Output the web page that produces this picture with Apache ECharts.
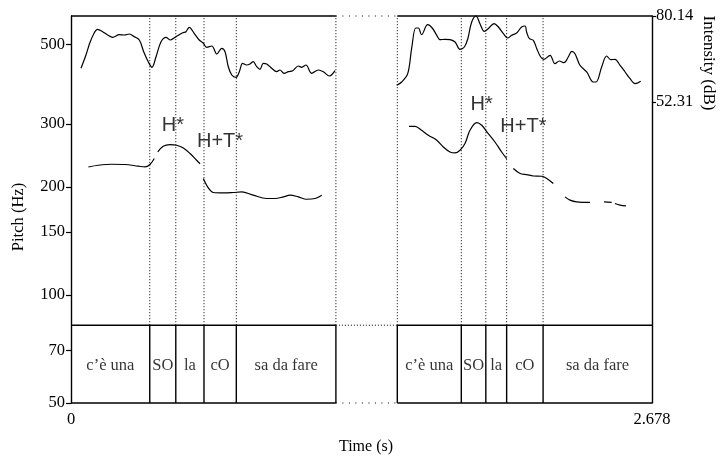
<!DOCTYPE html>
<html><head><meta charset="utf-8">
<script src="https://cdn.jsdelivr.net/npm/echarts@6/dist/echarts.min.js"></script>
<style>html,body{margin:0;padding:0;background:#fff}#c{width:720px;height:461px}</style>
</head><body><div id="c"></div><script>
// ---- axes / ticks ----
const pitchTicks = [50, 70, 100, 150, 200, 300, 500];
const pitchRange = [50, 600];
const intensityTicks = [52.31, 80.14];
const intensityRange = [-45.09, 80.14];
const timeTicks = [0, 2.678];
// ---- panels & tiers (time in s) ----
const panelLeft = [0, 1.221];
const panelRight = [1.504, 2.678];
const tierTop = 82.4;      // Hz level of tier top line
const tierLabelY = 63.4;   // Hz level of tier labels
const leftBounds = [0, 0.363, 0.483, 0.613, 0.762, 1.221];
const rightBounds = [1.504, 1.799, 1.912, 2.008, 2.176, 2.678];
const tierLabels = ["c’è una", "SO", "la", "cO", "sa da fare"];
// ---- tone labels ----
const toneLabels = ["H*", "H+T*", "H*", "H+T*"];
const tonePos = [[0.470, 297.4], [0.687, 268.8], [1.893, 339.9], [2.085, 295.9]];
// ---- intensity (dB) ----
const intensityLeft = [[0.046,63.22],[0.069,67.52],[0.092,72.37],[0.123,75.84],[0.146,75.06],[0.169,73.99],[0.192,73.25],[0.223,74.09],[0.246,73.99],[0.269,74.32],[0.292,73.44],[0.315,72.37],[0.335,68.59],[0.356,65.35],[0.373,63.54],[0.392,66.97],[0.415,71.82],[0.438,73.25],[0.458,72.37],[0.484,73.44],[0.515,74.74],[0.530,75.06],[0.545,76.48],[0.568,74.54],[0.591,72.37],[0.610,71.31],[0.625,70.01],[0.649,70.43],[0.672,67.84],[0.695,69.69],[0.710,68.59],[0.725,63.73],[0.741,61.05],[0.761,60.30],[0.776,62.12],[0.791,64.83],[0.810,64.28],[0.825,64.61],[0.840,65.35],[0.856,63.73],[0.871,62.89],[0.886,64.83],[0.902,64.61],[0.925,63.22],[0.948,62.12],[0.963,62.67],[0.982,61.60],[1.002,62.12],[1.022,62.44],[1.048,63.96],[1.063,63.54],[1.083,64.28],[1.109,61.60],[1.140,62.67],[1.163,62.12],[1.191,60.72],[1.217,62.44]];
const intensityRight = [[1.501,57.71],[1.524,58.78],[1.552,61.47],[1.570,69.56],[1.589,76.26],[1.601,76.26],[1.616,74.09],[1.644,77.32],[1.665,76.26],[1.686,73.89],[1.701,72.47],[1.724,72.60],[1.747,72.47],[1.770,71.73],[1.793,69.36],[1.813,70.11],[1.829,72.79],[1.847,78.20],[1.867,80.14],[1.885,77.65],[1.905,75.19],[1.923,76.03],[1.950,77.65],[1.970,76.58],[1.993,74.41],[2.013,73.02],[2.031,73.89],[2.054,74.64],[2.077,76.58],[2.093,76.90],[2.100,74.96],[2.113,72.79],[2.131,72.28],[2.147,69.56],[2.165,66.87],[2.180,66.13],[2.208,67.42],[2.231,64.70],[2.251,65.58],[2.272,65.03],[2.292,66.87],[2.308,68.72],[2.323,67.94],[2.346,64.19],[2.377,62.02],[2.407,58.78],[2.420,58.78],[2.446,63.64],[2.469,67.20],[2.488,66.00],[2.507,66.13],[2.531,64.19],[2.554,62.02],[2.577,59.85],[2.600,58.23],[2.626,59.01]];
// ---- pitch (Hz) segments ----
const pitchLeft1 = [[0.080,227.6],[0.126,230.1],[0.188,231.6],[0.249,231.2],[0.310,228.7],[0.341,227.6],[0.364,231.2],[0.384,240.2]];
const pitchLeft2 = [[0.400,250.6],[0.425,259.9],[0.456,262.7],[0.487,261.6],[0.518,257.1],[0.549,248.1],[0.579,237.6],[0.595,232.4]];
const pitchLeft3 = [[0.610,211.3],[0.633,198.9],[0.656,193.2],[0.702,192.7],[0.748,193.2],[0.787,193.9],[0.840,189.9],[0.902,185.9],[0.940,185.9],[0.979,187.8],[1.009,189.9],[1.048,187.8],[1.086,185.0],[1.125,185.9],[1.156,189.9]];
const pitchRight1 = [[1.558,295.5],[1.586,295.5],[1.616,288.0],[1.647,279.0],[1.686,270.2],[1.716,258.8],[1.747,250.6],[1.770,249.0],[1.793,253.4],[1.816,264.5],[1.839,288.0],[1.870,302.5],[1.893,297.4],[1.923,282.0],[1.954,267.2],[1.985,250.6],[2.008,240.2]];
const pitchRight2 = [[2.039,225.3],[2.070,218.2],[2.100,216.8],[2.131,214.8],[2.170,214.4],[2.193,211.3],[2.223,204.6]];
const pitchRight3 = [[2.277,187.8],[2.300,183.9],[2.331,181.8],[2.392,181.2]];
const pitchRight4 = [[2.457,181.8],[2.492,181.2]];
const pitchRight5 = [[2.507,180.0],[2.531,178.1],[2.558,177.3]];

const L = Math.log10;
const serif = 'Liberation Serif';
const black = '#000';

function seg(points, style, yIdx, smooth) {
  return {
    type: 'line', yAxisIndex: yIdx || 0, data: points, showSymbol: false, symbol: 'none',
    smooth: smooth || false, clip: false, silent: true, animation: false,
    lineStyle: Object.assign({ color: black, width: 1.2 }, style)
  };
}
const pitchSeg = pts => seg(pts.map(p => [p[0], L(p[1])]), { width: 1.2 }, 0, 0.35);
const hz = v => L(v);

const series = [];
const frame = { width: 1.4, color: black };
const dense = { width: 1, color: '#000', type: [1, 2] };
const sparse = { width: 1, color: '#000', type: [1, 5.5] };
// top lines
series.push(seg([[panelLeft[0], hz(pitchRange[1])], [panelLeft[1], hz(pitchRange[1])]], frame));
series.push(seg([[panelRight[0], hz(pitchRange[1])], [panelRight[1], hz(pitchRange[1])]], frame));
series.push(seg([[panelLeft[1], hz(pitchRange[1])], [panelRight[0], hz(pitchRange[1])]], sparse));
// bottom lines
series.push(seg([[panelLeft[0], hz(pitchRange[0])], [panelLeft[1], hz(pitchRange[0])]], frame));
series.push(seg([[panelRight[0], hz(pitchRange[0])], [panelRight[1], hz(pitchRange[0])]], frame));
series.push(seg([[panelLeft[1], hz(pitchRange[0])], [panelRight[0], hz(pitchRange[0])]], sparse));
// tier top lines
series.push(seg([[panelLeft[0], hz(tierTop)], [panelLeft[1], hz(tierTop)]], frame));
series.push(seg([[panelRight[0], hz(tierTop)], [panelRight[1], hz(tierTop)]], frame));
series.push(seg([[panelLeft[1], hz(tierTop)], [panelRight[0], hz(tierTop)]], dense));
// boundaries
const allB = leftBounds.slice(1).concat(rightBounds.slice(0, -1));
allB.forEach(b => {
  series.push(seg([[b, hz(tierTop)], [b, hz(pitchRange[1])]], dense));
  series.push(seg([[b, hz(pitchRange[0])], [b, hz(tierTop)]], frame));
});
// tier labels
const tierPts = [];
[leftBounds, rightBounds].forEach(bs => {
  for (let i = 0; i < bs.length - 1; i++) tierPts.push({ value: [(bs[i] + bs[i + 1]) / 2, hz(tierLabelY)], name: tierLabels[i] });
});
series.push({
  type: 'scatter', data: tierPts, symbolSize: 0, silent: true, animation: false,
  label: { show: true, position: 'inside', formatter: p => p.name, fontFamily: serif, fontSize: 16.5, color: black, textBorderWidth: 0 }
});
// tone labels
series.push({
  type: 'scatter', data: tonePos.map((p, i) => ({ value: [p[0], hz(p[1])], name: toneLabels[i] })),
  symbolSize: 0, silent: true, animation: false,
  label: { show: true, position: 'inside', formatter: p => p.name, fontFamily: 'Liberation Sans', fontSize: 20, color: black, textBorderWidth: 0 }
});
// intensity
series.push(seg(intensityLeft, { width: 1.2 }, 1, 0.35));
series.push(seg(intensityRight, { width: 1.2 }, 1, 0.35));
// pitch
[pitchLeft1, pitchLeft2, pitchLeft3, pitchRight1, pitchRight2, pitchRight3, pitchRight4, pitchRight5].forEach(p => series.push(pitchSeg(p)));

const chart = echarts.init(document.getElementById('c'), null, { renderer: 'canvas' });
chart.setOption({
  animation: false,
  backgroundColor: '#fff',
  grid: { left: 71, right: 68, top: 16, bottom: 58, containLabel: false },
  xAxis: {
    type: 'value', min: timeTicks[0], max: timeTicks[1],
    axisLine: { show: false }, axisTick: { show: false }, splitLine: { show: false },
    axisLabel: { customValues: timeTicks, formatter: v => String(+(+v).toFixed(3)), fontFamily: serif, fontSize: 16.5, color: black, margin: 8, showMinLabel: true, showMaxLabel: true }
  },
  yAxis: [{
    type: 'value', min: L(pitchRange[0]), max: L(pitchRange[1]), position: 'left',
    axisLine: { show: true, lineStyle: frame },
    axisTick: { show: true, length: 5, customValues: pitchTicks.map(L), lineStyle: { color: black, width: 1.2 } },
    axisLabel: { customValues: pitchTicks.map(L), formatter: v => String(Math.round(Math.pow(10, v))), fontFamily: serif, fontSize: 16.5, color: black, margin: 6, showMinLabel: true, showMaxLabel: true },
    splitLine: { show: false }
  }, {
    type: 'value', min: intensityRange[0], max: intensityRange[1], position: 'right',
    axisLine: { show: true, lineStyle: frame },
    axisTick: { show: true, length: 4, customValues: intensityTicks, lineStyle: { color: black, width: 1.2 } },
    axisLabel: { customValues: intensityTicks, formatter: v => (+v).toFixed(2), fontFamily: serif, fontSize: 16.5, color: black, margin: 4, showMinLabel: true, showMaxLabel: true },
    splitLine: { show: false }
  }],
  graphic: [
    { type: 'text', x: 19, y: 217, rotation: Math.PI / 2, style: { text: 'Pitch (Hz)', font: '16.5px "Liberation Serif"', fill: black, align: 'center', verticalAlign: 'middle' } },
    { type: 'text', x: 708, y: 63, rotation: -Math.PI / 2, style: { text: 'Intensity (dB)', font: '17px "Liberation Serif"', fill: black, align: 'center', verticalAlign: 'middle' } },
    { type: 'text', x: 366, y: 447, style: { text: 'Time (s)', font: '16px "Liberation Serif"', fill: black, align: 'center', verticalAlign: 'middle' } }
  ],
  series: series
});
</script></body></html>
